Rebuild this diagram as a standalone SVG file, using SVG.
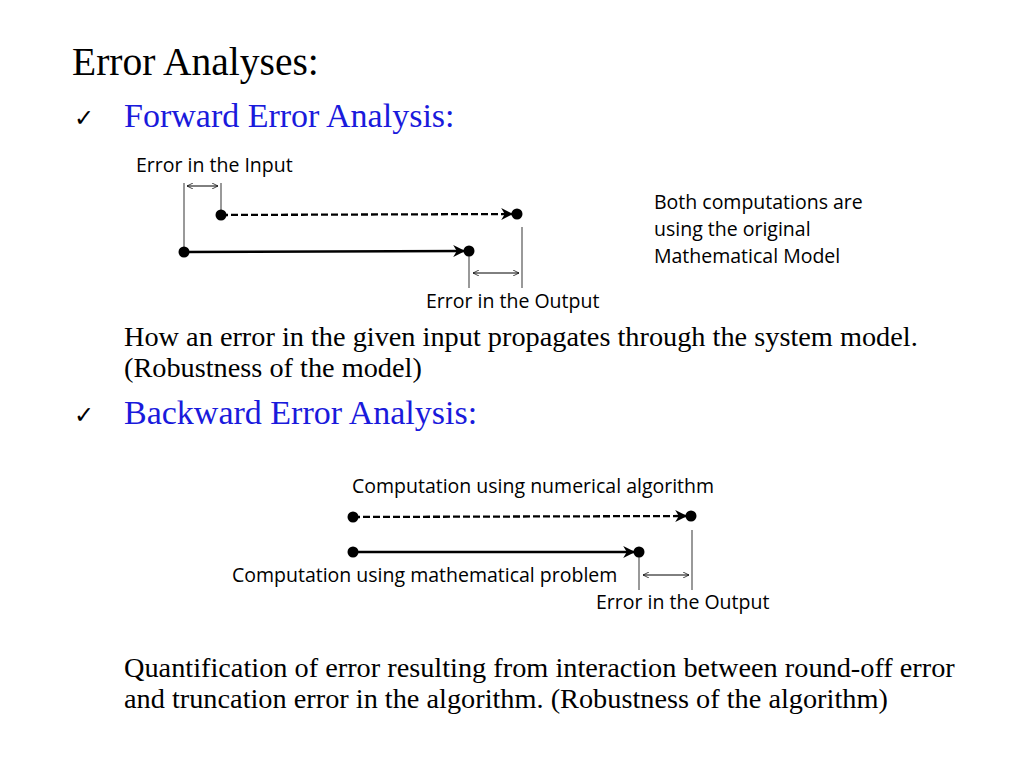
<svg xmlns="http://www.w3.org/2000/svg" width="1024" height="768" viewBox="0 0 1024 768">
<defs>
<marker id="ah" viewBox="0 0 10 10" refX="9" refY="5" markerWidth="13" markerHeight="12" markerUnits="userSpaceOnUse" orient="auto"><path d="M0,0 L10,5 L0,10 L3,5 Z" fill="#000"/></marker>
<marker id="sa" viewBox="0 0 10 10" refX="10" refY="5" markerWidth="9" markerHeight="6" markerUnits="userSpaceOnUse" orient="auto-start-reverse"><path d="M0,0 L10,5 L0,10" fill="none" stroke="#000" stroke-width="1.2"/></marker>
</defs>
<style>
.t{font-family:"Liberation Serif",serif;fill:#000}
.h{font-family:"Liberation Serif",serif;fill:#1a1adc;font-size:34px}
.l{font-family:"Open Sans","DejaVu Sans",sans-serif;font-size:19.5px;fill:#000}
.c{font-family:"DejaVu Sans",sans-serif;font-size:24px;font-weight:bold;fill:#000}
.m{stroke:#000;stroke-width:2.3;fill:none}
.g{stroke:#777;stroke-width:1.5}
.s{stroke:#000;stroke-width:1;marker-start:url(#sa);marker-end:url(#sa)}
</style>
<rect width="1024" height="768" fill="#fff"/>
<g id="text">
<text class="t" x="72" y="75" font-size="39.5">Error Analyses:</text>
<text class="c" x="74" y="126">✓</text>
<text class="h" x="124" y="127">Forward Error Analysis:</text>
<text class="c" x="74" y="423">✓</text>
<text class="h" x="124" y="424">Backward Error Analysis:</text>
<text class="t" x="124" y="346" font-size="28.3">How an error in the given input propagates through the system model.</text>
<text class="t" x="124" y="377" font-size="28.3">(Robustness of the model)</text>
<text class="t" x="124" y="677" font-size="28.3">Quantification of error resulting from interaction between round-off error</text>
<text class="t" x="124" y="708" font-size="28.3">and truncation error in the algorithm. (Robustness of the algorithm)</text>
</g>
<g id="labels">
<text class="l" x="136" y="172">Error in the Input</text>
<text class="l" x="426" y="308">Error in the Output</text>
<text class="l" x="654" y="209">Both computations are</text>
<text class="l" x="654" y="236">using the original</text>
<text class="l" x="654" y="263">Mathematical Model</text>
<text class="l" x="352" y="493">Computation using numerical algorithm</text>
<text class="l" x="232" y="582">Computation using mathematical problem</text>
<text class="l" x="596" y="609">Error in the Output</text>
</g>
<g id="connectors">
<line class="m" x1="221" y1="215" x2="512" y2="214" stroke-dasharray="7,3" marker-end="url(#ah)"/>
<line class="m" x1="184" y1="252" x2="464" y2="251" marker-end="url(#ah)"/>
<line class="m" x1="353" y1="517" x2="686" y2="516" stroke-dasharray="7,3" marker-end="url(#ah)"/>
<line class="m" x1="353" y1="552" x2="634" y2="552" marker-end="url(#ah)"/>
<line class="g" x1="184" y1="183" x2="184" y2="248"/>
<line class="g" x1="221" y1="183" x2="221" y2="212"/>
<line class="g" x1="469" y1="256" x2="469" y2="288"/>
<line class="g" x1="522" y1="227" x2="522" y2="288"/>
<line class="g" x1="639" y1="557" x2="639" y2="590"/>
<line class="g" x1="692" y1="530" x2="692" y2="590"/>
<line class="s" x1="187" y1="186" x2="218" y2="186"/>
<line class="s" x1="473" y1="273" x2="519" y2="273"/>
<line class="s" x1="643" y1="575" x2="689" y2="575"/>
</g>
<g id="dots" fill="#000">
<circle cx="221" cy="215" r="5.5"/><circle cx="517" cy="214" r="5.5"/>
<circle cx="184" cy="252" r="5.5"/><circle cx="469" cy="251" r="5.5"/>
<circle cx="353" cy="517" r="5.5"/><circle cx="691" cy="516" r="5.5"/>
<circle cx="353" cy="552" r="5.5"/><circle cx="639" cy="552" r="5.5"/>
</g>
</svg>
